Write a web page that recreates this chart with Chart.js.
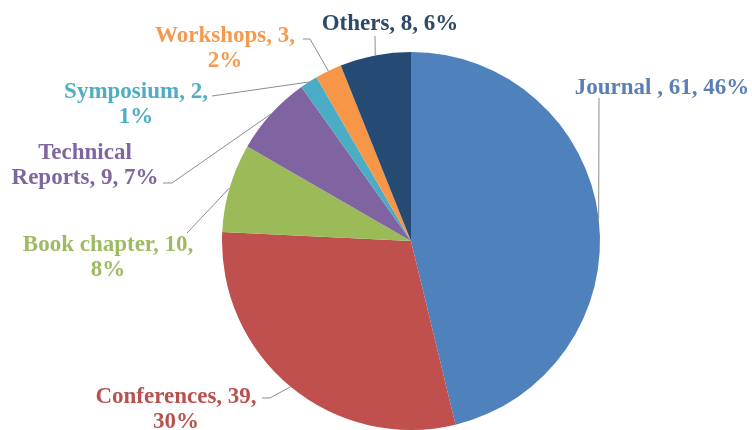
<!DOCTYPE html>
<html>
<head>
<meta charset="utf-8">
<script src="https://cdn.jsdelivr.net/npm/chart.js"></script>
<style>
  html, body { margin: 0; padding: 0; background: #fff; overflow: hidden; }
  #wrap { width: 752px; height: 430px; position: relative; }
</style>
</head>
<body>
<div id="wrap"><canvas id="pubChart"></canvas></div>
<script>
// data
const categories = ["Journal ", "Conferences", "Book chapter", "Technical Reports", "Symposium", "Workshops", "Others"];
const counts = [61, 39, 10, 9, 2, 3, 8];
const percentLabels = ["46%", "30%", "8%", "7%", "1%", "2%", "6%"];

const sliceColors = ["#4f81bd", "#c0504d", "#9bbb59", "#8064a2", "#4bacc6", "#f79646", "#254a74"];
const labelColors = ["#5b7fb3", "#b9524e", "#9dbb62", "#7e679f", "#4fadc4", "#f59a4e", "#2e4866"];

// label placement relative to the pie centre (px): first line centre, words on line 1, leader path
const labelLayout = [
  { x: 251, y: -153, firstWords: 99, leader: [[188, -143]] },
  { x: -235, y: 156, firstWords: 2, leader: [[-141, 157], [-149, 157]] },
  { x: -303, y: 4, firstWords: 3, leader: [[-224, -8]] },
  { x: -326, y: -88, firstWords: 1, leader: [[-239, -58], [-248, -58]] },
  { x: -275, y: -149, firstWords: 2, leader: [[-199, -145]] },
  { x: -186, y: -205, firstWords: 2, leader: [[-101, -202], [-108, -202]] },
  { x: -21, y: -217, firstWords: 99, leader: [[-36, -205]] }
];
const lineHeight = 25;

const pieLabels = {
  id: "pieLabels",
  afterDatasetsDraw(chart) {
    const ctx = chart.ctx;
    const meta = chart.getDatasetMeta(0);
    ctx.save();
    meta.data.forEach((arc, i) => {
      const p = arc.getProps(["x", "y", "startAngle", "endAngle", "outerRadius"], true);
      const mid = (p.startAngle + p.endAngle) / 2;
      const ex = p.x + Math.cos(mid) * p.outerRadius;
      const ey = p.y + Math.sin(mid) * p.outerRadius;
      const lay = labelLayout[i];

      // leader line
      ctx.strokeStyle = "#8c8c8c";
      ctx.lineWidth = 1;
      ctx.beginPath();
      ctx.moveTo(ex, ey);
      lay.leader.forEach(pt => ctx.lineTo(p.x + pt[0], p.y + pt[1]));
      ctx.stroke();

      // text
      const words = (categories[i] + ", " + counts[i] + ", " + percentLabels[i]).split(" ");
      const lines = [words.slice(0, lay.firstWords).join(" ")];
      if (words.length > lay.firstWords) lines.push(words.slice(lay.firstWords).join(" "));
      ctx.fillStyle = labelColors[i];
      ctx.font = "bold 23px 'Liberation Serif', serif";
      ctx.textAlign = "center";
      ctx.textBaseline = "middle";
      lines.forEach((ln, k) => {
        ctx.fillText(ln, p.x + lay.x, p.y + lay.y + k * lineHeight);
      });
    });
    ctx.restore();
  }
};

new Chart(document.getElementById("pubChart"), {
  type: "pie",
  data: {
    labels: categories,
    datasets: [{
      data: counts,
      backgroundColor: sliceColors,
      borderWidth: 0
    }]
  },
  options: {
    responsive: true,
    maintainAspectRatio: false,
    animation: false,
    layout: { padding: { top: 52, bottom: 0, left: 70, right: 0 } },
    plugins: {
      legend: { display: false },
      tooltip: { enabled: false }
    }
  },
  plugins: [pieLabels]
});
</script>
</body>
</html>
